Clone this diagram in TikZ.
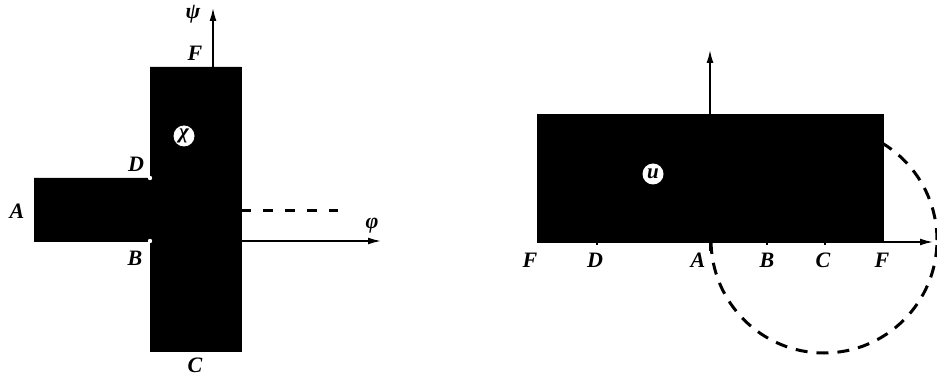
\documentclass[tikz,border=0pt]{standalone}
\usepackage{fontspec}
\setmainfont{Liberation Serif}
\usetikzlibrary{arrows.meta,positioning}

\begin{document}
\begin{tikzpicture}[x=1pt, y=-1pt,
  region/.style={fill=black, draw=black},
  axis/.style={line width=1.6pt, -{Latex[length=13pt, width=7pt]}},
  cut/.style={line width=3pt, dash pattern=on 12pt off 9pt},
  lbl/.style={font=\fontsize{22}{24}\selectfont\bfseries\itshape, inner sep=0pt},
  tag/.style={circle, fill=white, inner sep=0pt, minimum size=21pt,
              font=\fontsize{21}{23}\selectfont\bfseries\itshape},
  tick/.style={line width=2pt}
]
  \useasboundingbox (0,0) rectangle (937,379);
  % left: the T-shaped region in the chi plane
  \fill[region] (150,67) -- (241,67) -- (241,351) -- (150,351) -- (150,241)
    -- (34,241) -- (34,178) -- (150,178) -- cycle;
  \fill[white] (150,178) circle (2.2pt) (150,241) circle (2.2pt);
  \coordinate (vbase) at (213,67);
  \coordinate (vtip)  at (213,8);
  \coordinate (hbase) at (241,241);
  \coordinate (htip)  at (381,241);
  \coordinate (cutL)  at (241,211);
  \coordinate (cutR)  at (338,211);
  \draw[axis] (vbase) -- (vtip);
  \draw[axis] (hbase) -- (htip);
  \draw[cut, dash pattern=on 10pt off 12pt] (cutL) -- (cutR);
  \node[tag] (chi) at (184,136) {χ};
  \node[lbl] (psi) at (193,14)  {ψ};
  \node[lbl] (phi) at (372,226) {φ};
  \node[lbl] (lF) at (195,53)  {F};
  \node[lbl] (lD) at (136,164) {D};
  \node[lbl] (lA) at (17,211)  {A};
  \node[lbl] (lB) at (135,258) {B};
  \node[lbl] (lC) at (195,365) {C};

  % right: the u plane
  \node[circle, draw, cut, minimum size=226pt, inner sep=0pt] (ring) at (824,240) {};
  \fill[region] (537,114) rectangle (883,242);
  \coordinate (ubase) at (710,114);
  \coordinate (utip)  at (710,50);
  \coordinate (rbase) at (883,242);
  \coordinate (rtip)  at (933,242);
  \draw[axis] (ubase) -- (utip);
  \draw[axis] (rbase) -- (rtip);
  \foreach \p/\len in {597/3, 710/9, 767/3, 825/3} {
    \draw[tick] (\p,242) -- (\p,242+\len);
  }
  \node[tag] (u) at (653,174) {u};
  \node[lbl] (rF1) at (530,260) {F};
  \node[lbl] (rD)  at (595,260) {D};
  \node[lbl] (rA)  at (698,260) {A};
  \node[lbl] (rB)  at (767,260) {B};
  \node[lbl] (rC)  at (823,260) {C};
  \node[lbl] (rF2) at (882,260) {F};
\end{tikzpicture}
\end{document}
